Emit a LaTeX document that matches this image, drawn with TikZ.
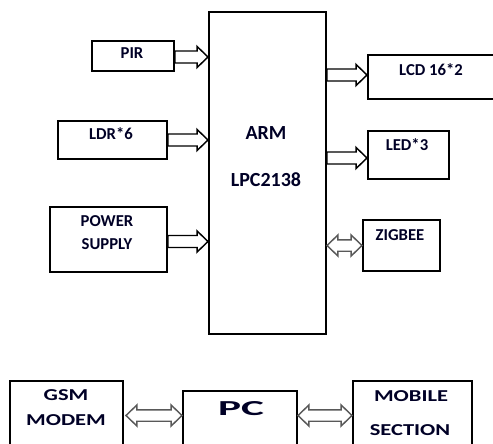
\documentclass[tikz,border=0pt]{standalone}
\usepackage{fontspec}
\setmainfont{Carlito}
\usetikzlibrary{calc}
\tikzset{
  box/.style={draw=black, line width=1.5pt, fill=white, inner sep=0pt, anchor=north west},
  txt/.style={font=\bfseries\fontsize{12.5}{14}\selectfont, inner sep=0pt, text=black!85!blue},
  big/.style={font=\bfseries\fontsize{15}{17}\selectfont, inner sep=0pt, text=black!85!blue},
  wide/.style={font=\bfseries\fontsize{12.5}{14}\selectfont, inner sep=0pt, text=black!85!blue, xscale=1.35},
  arr/.style={draw=black, line width=1.1pt, fill=white, line join=miter},
  garr/.style={draw=black!65, line width=1.1pt, fill=white, line join=miter}
}
% single fat arrow, horizontal, from #2 to #3 (pointing right)
\newcommand\fatR[3]{%
  \draw[#1] let \p1=#2, \p2=#3 in
   (\x1,\y1+4.5pt) -- (\x2-8.2pt,\y1+4.5pt) -- (\x2-8.2pt,\y1+7.9pt) -- (\x2,\y1)
   -- (\x2-8.2pt,\y1-7.9pt) -- (\x2-8.2pt,\y1-4.5pt) -- (\x1,\y1-4.5pt) -- cycle;}
% double fat arrow, horizontal, between #2 (left) and #3 (right)
\newcommand\fatLR[3]{%
  \draw[#1] let \p1=#2, \p2=#3 in
   (\x1,\y1) -- (\x1+8.2pt,\y1+7.9pt) -- (\x1+8.2pt,\y1+4.3pt) -- (\x2-8.2pt,\y1+4.3pt)
   -- (\x2-8.2pt,\y1+7.9pt) -- (\x2,\y1) -- (\x2-8.2pt,\y1-7.9pt) -- (\x2-8.2pt,\y1-4.3pt)
   -- (\x1+8.2pt,\y1-4.3pt) -- (\x1+8.2pt,\y1-7.9pt) -- cycle;}
\begin{document}
\begin{tikzpicture}[x=0.75pt,y=-0.75pt]
\useasboundingbox (0,0) rectangle (493,443);
\clip (0,0) rectangle (493,443);
% main boxes
\node[box, minimum width=117*0.75pt, minimum height=322*0.75pt] (ARM) at (208,11) {};
\node[box, minimum width=82*0.75pt, minimum height=30*0.75pt] (PIR) at (91,40) {};
\node[box, minimum width=109*0.75pt, minimum height=38*0.75pt] (LDR) at (57,120) {};
\node[box, minimum width=117*0.75pt, minimum height=65*0.75pt] (PWR) at (49,206) {};
\node[box, minimum width=130*0.75pt, minimum height=44*0.75pt] (LCD) at (367,54) {};
\node[box, minimum width=81*0.75pt, minimum height=48*0.75pt] (LED) at (367,130) {};
\node[box, minimum width=77*0.75pt, minimum height=51*0.75pt] (ZIG) at (362,219) {};
\node[box, minimum width=113*0.75pt, minimum height=80*0.75pt] (GSM) at (9,380) {};
\node[box, minimum width=114*0.75pt, minimum height=70*0.75pt] (PC) at (182,390) {};
\node[box, minimum width=119*0.75pt, minimum height=80*0.75pt] (MOB) at (352,380) {};
% texts
\node[big] (armA) at (266,133) {ARM};
\node[big] (armB) at (266,180) {LPC2138};
\node[txt] (pirT) at (132,53) {PIR};
\node[txt] (ldrT) at (111,134) {LDR*6};
\node[txt] (pwrA) at (107,221) {POWER};
\node[txt] (pwrB) at (107,244) {SUPPLY};
\node[txt] (lcdT) at (431,70) {LCD 16*2};
\node[txt] (ledT) at (407,145) {LED*3};
\node[txt] (zigT) at (400,235) {ZIGBEE};
\node[wide] (gsmA) at (66,395) {GSM};
\node[wide] (gsmB) at (66,420) {MODEM};
\node[wide, font=\bfseries\fontsize{16}{18}\selectfont, xscale=1.5] (pcT) at (241,409) {PC};
\node[wide] (mobA) at (411,396) {MOBILE};
\node[wide] (mobB) at (410,430) {SECTION};
% connectors
\fatR{arr}{($(PIR.east)+(0,1)$)}{(ARM.west)}
\fatR{arr}{(LDR.east)}{(ARM.west)}
\fatR{arr}{($(PWR.east)+(0,2)$)}{(ARM.west)}
\fatR{arr}{($(ARM.east |- LCD.west)+(0,-2)$)}{(LCD.west)}
\fatR{arr}{($(ARM.east |- LED.west)+(0,3)$)}{(LED.west)}
\fatLR{garr}{(ARM.east |- ZIG.west)}{(ZIG.west)}
\fatLR{garr}{($(GSM.north east)+(2,35.5)$)}{($(PC.north west)+(0,25.5)$)}
\fatLR{garr}{($(PC.north east)+(0,25.5)$)}{($(MOB.north west)+(0,35.5)$)}
\end{tikzpicture}
\end{document}
